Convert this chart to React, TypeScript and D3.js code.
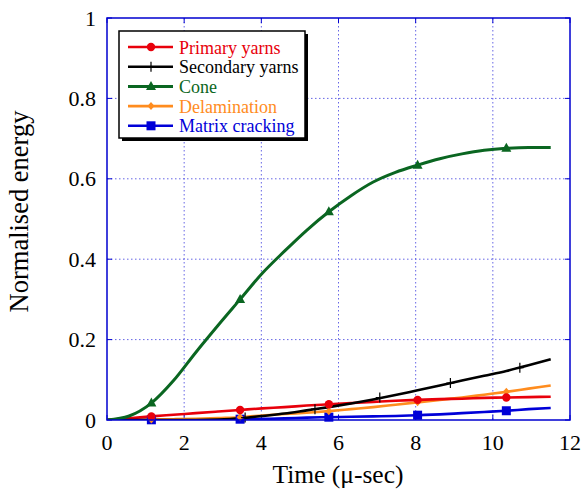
import React from "react";
import * as d3 from "d3";

const times = [0, 0.575, 1.15, 1.725, 2.3, 2.875, 3.45, 4.025, 4.6, 5.175, 5.75, 6.325, 6.9, 7.475, 8.05, 8.625, 9.2, 9.775, 10.35, 10.925, 11.5];
const primaryYarns = [0, 0.004, 0.009, 0.013, 0.017, 0.021, 0.025, 0.029, 0.032, 0.036, 0.039, 0.042, 0.045, 0.048, 0.05, 0.052, 0.053, 0.055, 0.056, 0.057, 0.058];
const secondaryYarns = [0, 0, 0, 0, 0, 0.001, 0.004, 0.01, 0.016, 0.024, 0.032, 0.041, 0.051, 0.062, 0.074, 0.086, 0.098, 0.11, 0.122, 0.136, 0.151];
const cone = [0, 0.01, 0.042, 0.098, 0.168, 0.235, 0.3, 0.365, 0.42, 0.472, 0.518, 0.558, 0.592, 0.616, 0.634, 0.65, 0.662, 0.671, 0.676, 0.678, 0.678];
const delamination = [0, 0, 0.001, 0.002, 0.003, 0.005, 0.007, 0.011, 0.015, 0.018, 0.022, 0.027, 0.032, 0.038, 0.044, 0.05, 0.056, 0.063, 0.07, 0.078, 0.086];
const matrixCracking = [0, 0, 0.0005, 0.001, 0.001, 0.0015, 0.002, 0.003, 0.004, 0.006, 0.007, 0.008, 0.009, 0.01, 0.012, 0.014, 0.017, 0.02, 0.023, 0.027, 0.03];
const markerIdx = [2, 6, 10, 14, 18];
const secondaryMarkerTimes = [3.58, 5.39, 7.07, 8.9, 10.7];
const secondaryMarkerValues = [0.006, 0.027, 0.056, 0.092, 0.13];

const xTicks = [0, 2, 4, 6, 8, 10, 12];
const yTicks = [0, 0.2, 0.4, 0.6, 0.8, 1];
const yTickLabels = ["0", "0.2", "0.4", "0.6", "0.8", "1"];

type Series = { name: string; values: number[]; color: string; marker: string; width: number };
const series: Series[] = [
  { name: "Primary yarns", values: primaryYarns, color: "#e8000b", marker: "circle", width: 2.6 },
  { name: "Secondary yarns", values: secondaryYarns, color: "#000000", marker: "plus", width: 2.6 },
  { name: "Cone", values: cone, color: "#0a6621", marker: "triangle", width: 3 },
  { name: "Delamination", values: delamination, color: "#ff8c1e", marker: "diamond", width: 2.6 },
  { name: "Matrix cracking", values: matrixCracking, color: "#0000d8", marker: "square", width: 2.6 },
];

const L = 107, R = 570, T = 18, B = 420;
const serif = { fontFamily: "'Liberation Serif', 'DejaVu Serif', serif" };

function Marker({ type, x, y, color }: { type: string; x: number; y: number; color: string }) {
  if (type === "circle") return <circle cx={x} cy={y} r={4.2} fill={color} />;
  if (type === "square") return <rect x={x - 4.5} y={y - 4.5} width={9} height={9} fill={color} />;
  if (type === "triangle") return <path d={`M${x},${y - 5.5}L${x + 5},${y + 3.5}L${x - 5},${y + 3.5}Z`} fill={color} />;
  if (type === "diamond") return <path d={`M${x},${y - 4}L${x + 3.5},${y}L${x},${y + 4}L${x - 3.5},${y}Z`} fill={color} />;
  return <path d={`M${x - 4},${y}H${x + 4}M${x},${y - 5}V${y + 5}`} stroke={color} strokeWidth={1.2} />;
}

export default function App() {
  const x = d3.scaleLinear().domain([0, 12]).range([L, R]);
  const y = d3.scaleLinear().domain([0, 1]).range([B, T]);
  const line = d3.line<number>().x((_, i) => x(times[i])).y((d) => y(d)).curve(d3.curveMonotoneX);
  const gridColor = "#4040e0";
  const axisColor = "#0000d0";
  const legX = 119, legY = 31, legW = 186, legH = 107, rowH = 19.7;

  return (
    <svg width={581} height={490} style={{ position: "absolute", left: 0, top: 0, background: "#fff" }}>
      <defs>
        <clipPath id="plot"><rect x={L} y={T} width={R - L} height={B - T} /></clipPath>
      </defs>
      {xTicks.slice(1, -1).map((t) => (
        <line key={"gx" + t} x1={x(t)} x2={x(t)} y1={T} y2={B} stroke={gridColor} strokeWidth={1} strokeDasharray="1.5,2.5" opacity={0.8} />
      ))}
      {yTicks.slice(1, -1).map((t) => (
        <line key={"gy" + t} x1={L} x2={R} y1={y(t)} y2={y(t)} stroke={gridColor} strokeWidth={1} strokeDasharray="1.5,2.5" opacity={0.8} />
      ))}
      {xTicks.map((t) => (
        <g key={"tx" + t}>
          <line x1={x(t)} x2={x(t)} y1={B} y2={B - 5} stroke={axisColor} strokeWidth={1} />
          <line x1={x(t)} x2={x(t)} y1={T} y2={T + 5} stroke={axisColor} strokeWidth={1} />
          <text x={x(t)} y={450} textAnchor="middle" style={serif} fontSize={22} fill="#000">{t}</text>
        </g>
      ))}
      {yTicks.map((t, i) => (
        <g key={"ty" + t}>
          <line x1={L} x2={L + 5} y1={y(t)} y2={y(t)} stroke={axisColor} strokeWidth={1} />
          <line x1={R} x2={R - 5} y1={y(t)} y2={y(t)} stroke={axisColor} strokeWidth={1} />
          <text x={96} y={y(t) + 7.5} textAnchor="end" style={serif} fontSize={22} fill="#000">{yTickLabels[i]}</text>
        </g>
      ))}
      <g clipPath="url(#plot)">
        {[4, 3, 0, 1, 2].map((si) => {
          const s = series[si];
          return <path key={s.name} d={line(s.values) || ""} fill="none" stroke={s.color} strokeWidth={s.width} strokeLinejoin="round" />;
        })}
      </g>
      {[4, 3, 0, 2].map((si) => {
        const s = series[si];
        return (
          <g key={"m" + s.name}>
            {markerIdx.map((k) => (
              <Marker key={k} type={s.marker} x={x(times[k])} y={y(s.values[k])} color={s.color} />
            ))}
          </g>
        );
      })}
      {secondaryMarkerTimes.map((t, i) => (
        <Marker key={"sm" + i} type="plus" x={x(t)} y={y(secondaryMarkerValues[i])} color="#000" />
      ))}
      <rect x={L} y={T} width={R - L} height={B - T} fill="none" stroke={axisColor} strokeWidth={1.5} />
      <rect x={legX + 3} y={legY + 3} width={legW} height={legH} fill="#000" />
      <rect x={legX} y={legY} width={legW} height={legH} fill="#fff" stroke="#000" strokeWidth={1.5} />
      {series.map((s, i) => {
        const cy = legY + 16 + i * rowH;
        return (
          <g key={"lg" + s.name}>
            <line x1={legX + 9} x2={legX + 54} y1={cy} y2={cy} stroke={s.color} strokeWidth={s.width} />
            <Marker type={s.marker} x={legX + 32} y={cy} color={s.color} />
            <text x={legX + 60} y={cy + 6.5} style={serif} fontSize={18} fill={s.color}>{s.name}</text>
          </g>
        );
      })}
      <text x={338} y={483} textAnchor="middle" style={serif} fontSize={25.5} fill="#000">Time (μ-sec)</text>
      <text transform={`translate(28,${211.5}) rotate(-90)`} textAnchor="middle" style={serif} fontSize={26.5} fill="#000">Normalised energy</text>
    </svg>
  );
}
